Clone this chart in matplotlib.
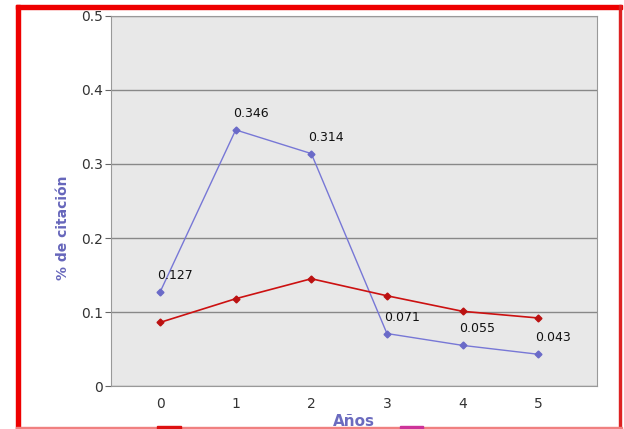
import matplotlib
matplotlib.use("Agg")
import matplotlib.pyplot as plt
from matplotlib.patches import Rectangle

years = [0, 1, 2, 3, 4, 5]
blue_vals = [0.127, 0.346, 0.314, 0.071, 0.055, 0.043]
red_vals = [0.086, 0.118, 0.145, 0.122, 0.101, 0.092]
y_ticks = [0, 0.1, 0.2, 0.3, 0.4, 0.5]
y_tick_labels = ["0", "0.1", "0.2", "0.3", "0.4", "0.5"]

fig = plt.figure(figsize=(6.24, 4.29), dpi=100)
ax = fig.add_axes([0.178, 0.1, 0.779, 0.863])
ax.set_facecolor("#e8e8e8")

ax.plot(years, blue_vals, color="#7777d6", lw=1, marker="D", ms=3.5,
        mfc="#6a6ac8", mec="#6a6ac8", zorder=3)
ax.plot(years, red_vals, color="#cc1111", lw=1.2, marker="D", ms=3.5,
        mfc="#bb1111", mec="#bb1111", zorder=3)

for x, v in zip(years, blue_vals):
    ax.annotate("%.3f" % v, (x, v), xytext=(-3, 10), textcoords="offset pixels",
                fontsize=9, color="#111111", ha="left", va="bottom")

ax.set_xlim(-0.648, 5.78)
ax.set_ylim(0, 0.5)
ax.set_yticks(y_ticks)
ax.set_yticklabels(y_tick_labels)
ax.set_xticks(years)
ax.grid(axis="y", color="#888888", lw=1)
ax.set_axisbelow(True)
for s in ax.spines.values():
    s.set_color("#999999")
ax.tick_params(axis="y", length=4, color="#666666", labelsize=10, labelcolor="#333333", pad=2)
ax.tick_params(axis="x", length=0, labelsize=10, labelcolor="#333333", pad=8)

ax.set_ylabel("% de citación", color="#6666bb", fontsize=10, fontweight="bold")
ax.yaxis.set_label_coords(-0.085, 0.427)
ax.set_xlabel("Años", color="#6b6bbf", fontsize=11, fontweight="bold", labelpad=2)

# red frame around the whole picture
W, H = 624.0, 429.0
fig.patches.append(Rectangle((16 / W, 0), 4 / W, 1 - 5 / H, transform=fig.transFigure,
                             color="#ee0000", zorder=10))
fig.patches.append(Rectangle((16 / W, 1 - 9 / H), 606 / W, 4 / H, transform=fig.transFigure,
                             color="#ee0000", zorder=10))
fig.patches.append(Rectangle((619 / W, 0), 2 / W, 1 - 5 / H, transform=fig.transFigure,
                             color="#dd2222", zorder=10))
fig.patches.append(Rectangle((16 / W, 0), 606 / W, 2 / H, transform=fig.transFigure,
                             color="#f08080", zorder=10))
# legend swatches cut off at the bottom edge
fig.patches.append(Rectangle((157 / W, 0), 24 / W, 3 / H, transform=fig.transFigure,
                             color="#dd1111", zorder=11))
fig.patches.append(Rectangle((400 / W, 0), 23 / W, 3 / H, transform=fig.transFigure,
                             color="#cc3399", zorder=11))

fig.savefig("out.png", dpi=100)
